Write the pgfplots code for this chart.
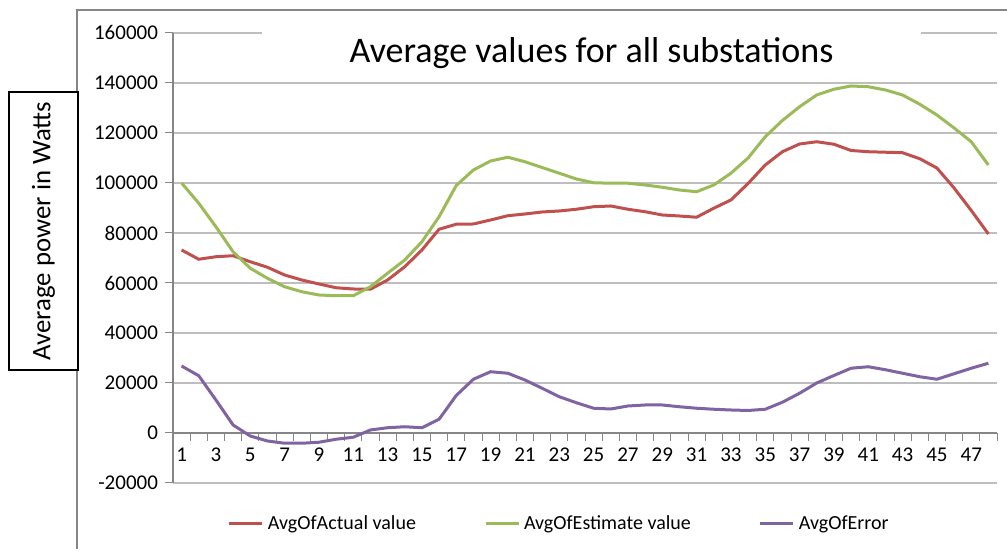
\documentclass[border=0pt]{standalone}
\usepackage{fontspec}
\setmainfont{Carlito}
\usepackage{pgfplots}
\pgfplotsset{compat=1.18}
\usepackage{pgfplotstable}
\definecolor{actRed}{RGB}{192,80,77}
\definecolor{estGreen}{RGB}{155,187,89}
\definecolor{errPurple}{RGB}{128,100,162}
\definecolor{gridGray}{RGB}{190,190,190}
\definecolor{axisGray}{RGB}{134,134,134}

% half-hour slot, average actual, average estimate, average error (W)
\pgfplotstableread{
slot actual estimate error
1 73200 100000 26800
2 69500 91900 22900
3 70500 82500 13200
4 70900 72500 3200
5 68500 65900 -1200
6 66300 61900 -3200
7 63200 58500 -4100
8 61200 56500 -4100
9 59600 55200 -3700
10 58100 54900 -2500
11 57600 54900 -1700
12 57500 58500 1200
13 61200 63900 2100
14 66500 69200 2500
15 73200 76500 2100
16 81500 86500 5500
17 83500 99000 15000
18 83600 105200 21500
19 85200 108800 24500
20 86900 110300 23900
21 87600 108500 21200
22 88400 106200 17900
23 88800 103900 14500
24 89500 101600 12100
25 90500 100100 9900
26 90800 99900 9600
27 89500 99900 10800
28 88500 99200 11200
29 87200 98300 11200
30 86800 97200 10500
31 86300 96500 9900
32 89900 99200 9500
33 93200 103900 9200
34 99800 110000 9000
35 107200 118500 9500
36 112500 125000 12300
37 115600 130500 15900
38 116500 135200 20000
39 115500 137500 23000
40 113000 138800 25900
41 112500 138500 26500
42 112300 137200 25300
43 112100 135200 23900
44 109700 131500 22500
45 106000 127200 21500
46 98000 122000 23700
47 89000 116500 25900
48 79600 107200 27900
}\avgdata

\begin{document}
\begin{tikzpicture}
\begin{scope}[x=0.5pt,y=0.5pt]
\useasboundingbox (0,0) rectangle (1007,549);
\draw[axisGray,line width=0.8pt] (77,0) -- (77,539) -- (1007,539);
\end{scope}
\begin{axis}[
  at={(86.5pt,33pt)}, anchor=south west,
  scale only axis, width=412pt, height=225pt,
  xmin=0.5, xmax=48.5, ymin=-20000, ymax=160000,
  axis x line=middle, axis y line=left,
  axis line style={axisGray,line width=0.6pt,-},
  xtick={0.5,1.5,...,48.5},
  xticklabels={},
  extra x ticks={1,3,...,47},
  extra x tick labels={1,3,5,7,9,11,13,15,17,19,21,23,25,27,29,31,33,35,37,39,41,43,45,47},
  extra x tick style={major tick length=0pt},
  ytick={-20000,0,20000,40000,60000,80000,100000,120000,140000,160000},
  yticklabels={-20000,0,20000,40000,60000,80000,100000,120000,140000,160000},
  scaled y ticks=false,
  tick style={axisGray,line width=0.5pt},
  major tick length=4pt,
  tick align=outside,
  ymajorgrids, grid style={gridGray,line width=0.6pt},
  tick label style={font=\fontsize{10.5}{12}\selectfont},
  xticklabel style={yshift=-4pt},
  legend columns=3,
  legend style={at={(axis description cs:0.47,-0.091)}, anchor=center,
    draw=none, fill=none, font=\fontsize{10}{12}\selectfont,
    /tikz/every even column/.append style={column sep=32pt}},
  legend image code/.code={\draw[#1] (0pt,0pt) -- (16.5pt,0pt);},
]
\addplot[actRed,line width=1.5pt] table[x=slot,y=actual]{\avgdata};
\addlegendentry{AvgOfActual value}
\addplot[estGreen,line width=1.5pt] table[x=slot,y=estimate]{\avgdata};
\addlegendentry{AvgOfEstimate value}
\addplot[errPurple,line width=1.5pt] table[x=slot,y=error]{\avgdata};
\addlegendentry{AvgOfError}
\end{axis}
\begin{scope}[x=0.5pt,y=0.5pt]
\fill[white] (262,474) rectangle (921,527);
\node[anchor=base,inner sep=0pt] at (591.5,486) {\fontsize{18}{21}\selectfont Average values for all substations};
\draw[black,line width=0.8pt,fill=white] (9,179) rectangle (78,457);
\node[rotate=90] at (43.5,318) {\fontsize{13.4}{15}\selectfont Average power in Watts};
\end{scope}
\end{tikzpicture}
\end{document}
